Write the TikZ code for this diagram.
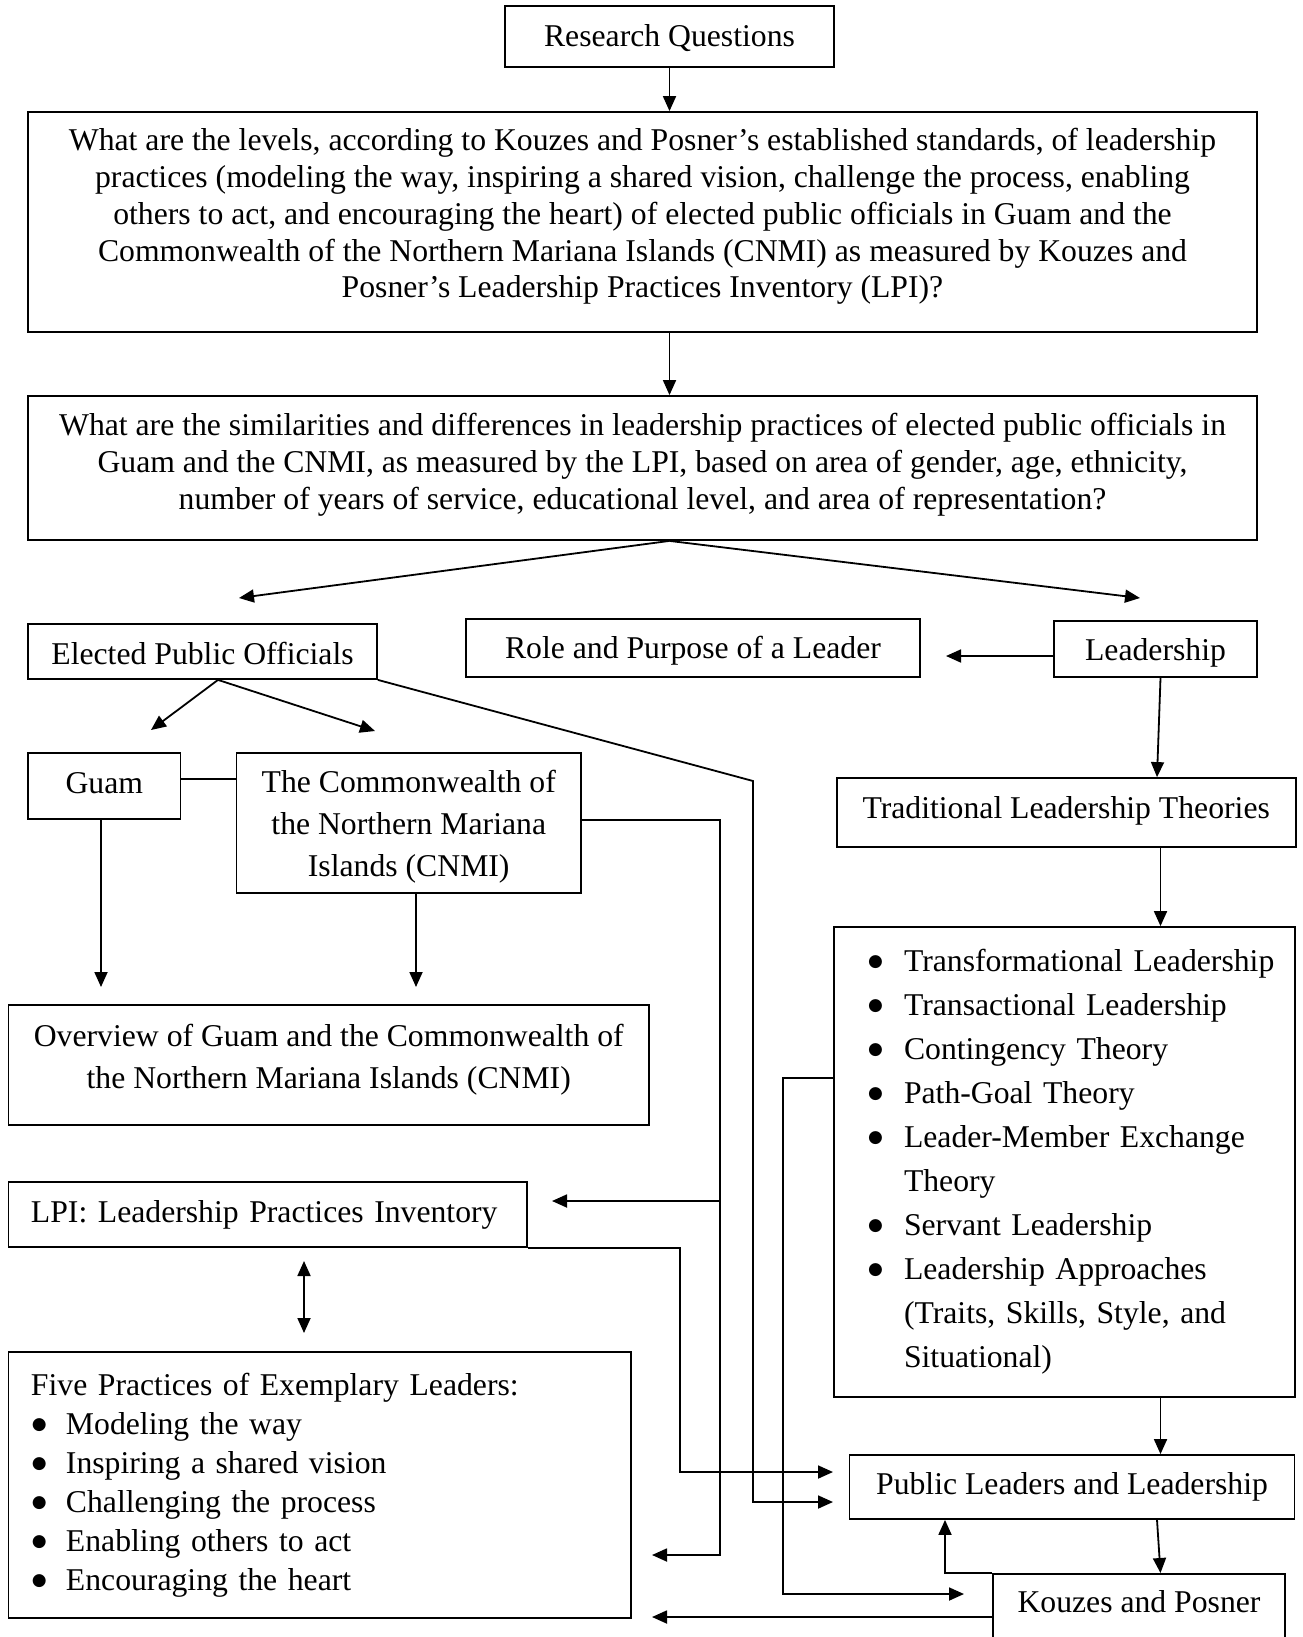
\documentclass[tikz,border=0pt]{standalone}
\usepackage{fontspec}
\setmainfont{Liberation Serif}
\newfontfamily\dejavu{DejaVu Sans}
\usetikzlibrary{arrows.meta}
\newcommand\up[2]{\raisebox{#1}[\height][\depth]{#2}}
\newcommand\bul{\raisebox{5pt}{\fontsize{17}{17}\dejavu ●}}
\begin{document}
\begin{tikzpicture}[x=1pt,y=-1pt,
  frame/.style={draw,line width=1.8pt,inner sep=0pt,font=\fontsize{31.7}{36.8}\selectfont},
  box/.style={frame,align=center},
  lbox/.style={frame,align=left},
  arr/.style={line width=1.8pt,-{Triangle[length=15pt,width=13pt]}},
  darr/.style={line width=1.8pt,{Triangle[length=15pt,width=13pt]}-{Triangle[length=15pt,width=13pt]}},
  ln/.style={line width=1.8pt}]
\clip (0,0) rectangle (1302,1637);
\fill[white] (0,0) rectangle (1302,1637);

% boxes
\node[frame,minimum width=329pt,minimum height=61pt] (rq) at (669.5,36.5) {\up{-2pt}{Research Questions}};
\node[frame,minimum width=1229pt,minimum height=220pt] (q1) at (642.5,222) {\up{5pt}{\begin{tabular}{@{}c@{}}What are the levels, according to Kouzes and Posner’s established standards, of leadership\\practices (modeling the way, inspiring a shared vision, challenge the process, enabling\\others to act, and encouraging the heart) of elected public officials in Guam and the\\Commonwealth of the Northern Mariana Islands (CNMI) as measured by Kouzes and\\Posner’s Leadership Practices Inventory (LPI)?\end{tabular}}};
\node[frame,minimum width=1229pt,minimum height=144pt] (q2) at (642.5,468) {\up{3pt}{\begin{tabular}{@{}c@{}}What are the similarities and differences in leadership practices of elected public officials in\\Guam and the CNMI, as measured by the LPI, based on area of gender, age, ethnicity,\\number of years of service, educational level, and area of representation?\end{tabular}}};
\node[frame,minimum width=349pt,minimum height=55pt] (epo) at (202.5,651.5) {\up{-2pt}{Elected Public Officials}};
\node[frame,minimum width=454pt,minimum height=58pt] (role) at (693,648) {\up{-3pt}{Role and Purpose of a Leader}};
\node[frame,minimum width=203pt,minimum height=56pt] (lead) at (1155.5,649) {\up{-4pt}{Leadership}};
\node[frame,minimum width=152.5pt,minimum height=66pt] (guam) at (104.25,786) {\up{3pt}{Guam}};
\node[frame,minimum width=344.5pt,minimum height=140pt,font=\fontsize{31.7}{42.3}\selectfont] (cnmi) at (408.75,823) {\up{-3pt}{\begin{tabular}{@{}c@{}}The Commonwealth of\\the Northern Mariana\\Islands (CNMI)\end{tabular}}};
\node[frame,minimum width=459pt,minimum height=69pt] (trad) at (1066.2,812.5) {\up{2pt}{Traditional Leadership Theories}};
\node[lbox,text width=461pt,minimum height=470pt,font=\fontsize{31.7}{44}\selectfont] (list) at (1064.5,1162) {%
\hspace*{34pt}\makebox[36pt][l]{\bul}Transformational Leadership\\
\hspace*{34pt}\makebox[36pt][l]{\bul}Transactional Leadership\\
\hspace*{34pt}\makebox[36pt][l]{\bul}Contingency Theory\\
\hspace*{34pt}\makebox[36pt][l]{\bul}Path-Goal Theory\\
\hspace*{34pt}\makebox[36pt][l]{\bul}Leader-Member Exchange\\
\hspace*{70pt}Theory\\
\hspace*{34pt}\makebox[36pt][l]{\bul}Servant Leadership\\
\hspace*{34pt}\makebox[36pt][l]{\bul}Leadership Approaches\\
\hspace*{70pt}(Traits, Skills, Style, and\\
\hspace*{70pt}Situational)};
\node[frame,minimum width=640.5pt,minimum height=120pt,font=\fontsize{31.7}{42}\selectfont] (over) at (328.75,1065) {\up{6pt}{\begin{tabular}{@{}c@{}}Overview of Guam and the Commonwealth of\\the Northern Mariana Islands (CNMI)\end{tabular}}};
\node[lbox,text width=518.5pt,minimum height=65pt] (lpi) at (267.75,1214.5) {\hspace*{22.5pt}LPI: Leadership Practices Inventory};
\node[lbox,text width=622.5pt,minimum height=266pt,font=\fontsize{31.7}{39}\selectfont] (five) at (319.75,1485) {%
\hspace*{22.5pt}Five Practices of Exemplary Leaders:\\
\hspace*{23.5pt}\makebox[34pt][l]{\bul}Modeling the way\\
\hspace*{23.5pt}\makebox[34pt][l]{\bul}Inspiring a shared vision\\
\hspace*{23.5pt}\makebox[34pt][l]{\bul}Challenging the process\\
\hspace*{23.5pt}\makebox[34pt][l]{\bul}Enabling others to act\\
\hspace*{23.5pt}\makebox[34pt][l]{\bul}Encouraging the heart};
\node[frame,minimum width=445pt,minimum height=64pt] (pll) at (1072,1487) {Public Leaders and Leadership};
\node[frame,anchor=north,minimum width=292pt,text height=39pt,text depth=48pt] (kp) at (1139,1573) {Kouzes and Posner};

% helper coordinates
\coordinate (fl) at (239,598);
\coordinate (fr) at (1140,598);
\coordinate (tg) at (151,730);
\coordinate (tc) at (375,731);
\coordinate (xe) at (753,781);
\coordinate (tipB) at (833,1502);
\coordinate (tipA) at (833,1472);
\coordinate (gd) at (101,987);
\coordinate (cd) at (416,987);
\coordinate (xc) at (720,0);
\coordinate (t5a) at (652,1555);
\coordinate (t5b) at (652,1617);
\coordinate (tl) at (552,1201);
\coordinate (xl) at (680,0);
\coordinate (da) at (304,1261);
\coordinate (db) at (304,1333);
\coordinate (tr) at (946,656);
\coordinate (xr) at (1160.5,0);
\coordinate (xr2) at (1157,0);
\coordinate (xk) at (945,0);
\coordinate (xli) at (783,0);
\coordinate (tipK) at (964,1594);

% connectors
\draw[arr] (rq.south) -- (rq.south |- q1.north);
\draw[arr] (q1.south -| rq.south) -- (q2.north -| rq.south);
\draw[arr] (q2.south -| rq.south) -- (fl);
\draw[arr] (q2.south -| rq.south) -- (fr);

\draw[arr] ([xshift=15.5pt]epo.south) -- (tg);
\draw[arr] ([xshift=15.5pt]epo.south) -- (tc);
\draw[arr] (epo.south east) -- (xe) -- (xe |- tipB) -- (tipB);

\draw[ln] ([yshift=7pt]guam.east) -- ([yshift=7pt]guam.east -| cnmi.west);
\draw[arr] (guam.south -| gd) -- (gd);
\draw[arr] (cnmi.south -| cd) -- (cd);

\draw[arr] ([yshift=3pt]cnmi.east) -- ([yshift=3pt]cnmi.east -| xc) -- (xc |- t5a) -- (t5a);
\draw[arr] (xc |- tl) -- (tl);

\draw[arr] (lpi.south east) -- (lpi.south east -| xl) -- (xl |- tipA) -- (tipA);
\draw[darr] (da) -- (db);

\draw[arr] (lead.west |- tr) -- (tr);
\draw[arr] (lead.south -| xr) -- (trad.north -| xr2);
\draw[arr] (trad.south -| xr) -- (list.north -| xr);
\draw[arr] (list.south -| xr) -- (pll.north -| xr);
\draw[arr] (pll.south -| xr2) -- (kp.north -| xr);

\draw[arr] (kp.north west) -- (kp.north west -| xk) -- (pll.south -| xk);
\draw[arr] (kp.west |- t5b) -- (t5b);

\draw[arr] ([yshift=84pt]list.west) -- ([yshift=84pt]list.west -| xli) -- (xli |- tipK) -- (tipK);
\end{tikzpicture}
\end{document}
